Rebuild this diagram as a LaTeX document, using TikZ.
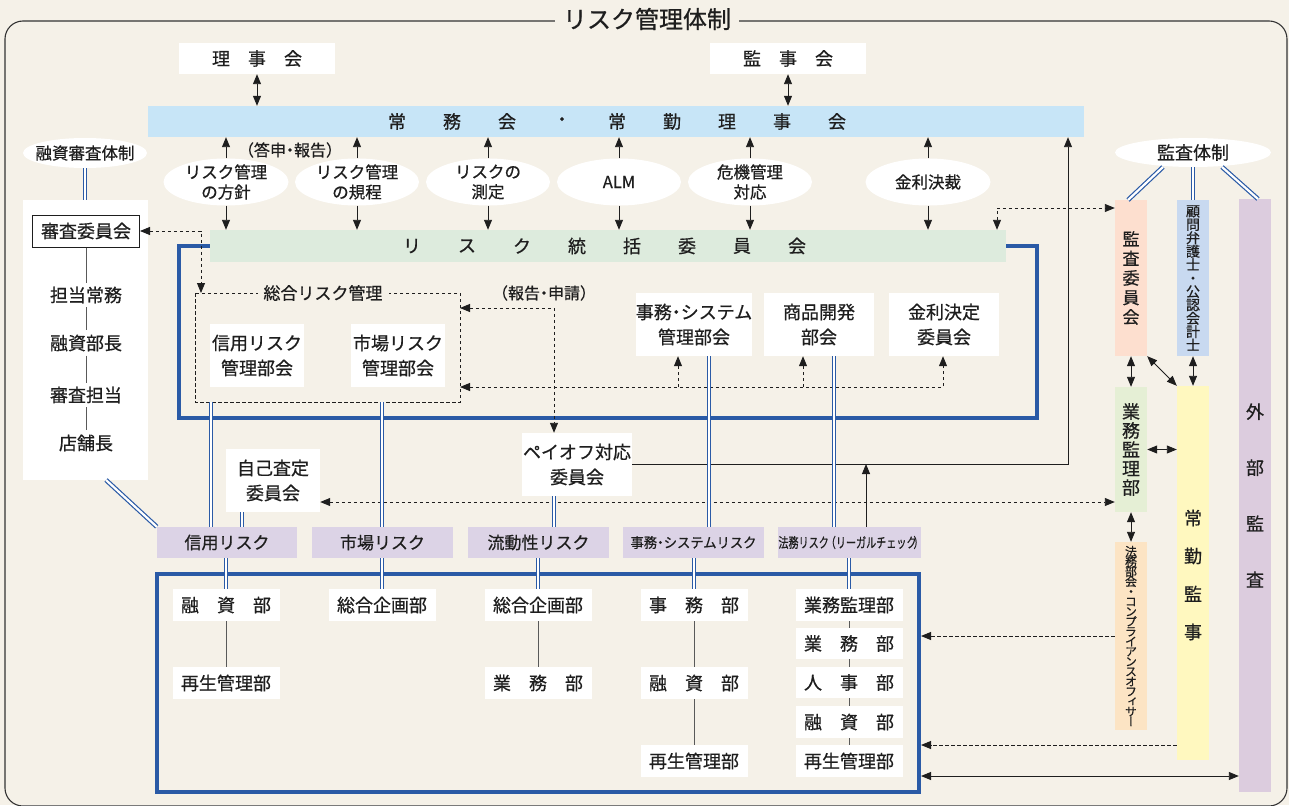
\documentclass[tikz,border=0pt]{standalone}
\usepackage{fontspec}
\setmainfont{Noto Sans CJK JP}[FakeBold=0.6]
\newfontfamily\vfont{Noto Sans CJK JP}[RawFeature=+vert,FakeBold=0.6]
\usetikzlibrary{arrows.meta,shapes.geometric}
\definecolor{bg}{HTML}{F5F1E8}
\definecolor{jomucol}{HTML}{C7E5F7}
\definecolor{greencol}{HTML}{DDEBDD}
\definecolor{purp}{HTML}{DCD3E6}
\definecolor{frblue}{HTML}{2A5AA6}
\definecolor{peach}{HTML}{FDDFCF}
\definecolor{lblue}{HTML}{C8D9F0}
\definecolor{lav}{HTML}{DCCCDE}
\definecolor{lgreen}{HTML}{E5EFD5}
\definecolor{lorange}{HTML}{FCE4C4}
\definecolor{lyellow}{HTML}{FFF8BF}
\definecolor{ink}{HTML}{1E1E1E}
\newcommand\myfs[2]{\fontsize{#1}{#2}\selectfont\lineskiplimit=-50pt\relax}
\newcommand\nd{\kern-0.25em・\kern-0.25em}
\tikzset{
  wbox/.style={fill=white, inner sep=0pt, align=center, text=ink, font=\myfs{18}{25}},
  ell/.style={ellipse, fill=white, inner sep=0pt},
  etxt/.style={align=center, text=ink, font=\myfs{16.5}{20}},
  pbox/.style={fill=purp, inner sep=0pt, minimum width=141pt, minimum height=31pt, text=ink, font=\myfs{17}{20}},
  lbox/.style={fill=white, inner sep=0pt, minimum width=107pt, minimum height=32pt, text=ink, font=\myfs{18}{20}},
  vbox/.style={inner sep=0pt, minimum width=32pt},
  vtxt/.style={align=center, text=ink},
  bluefr/.style={draw=frblue, line width=4pt, inner sep=0pt},
  arr/.style={-{Triangle[length=10pt,width=8pt]}, line width=0.9pt, draw=ink},
  darr/.style={{Triangle[length=10pt,width=8pt]}-{Triangle[length=10pt,width=8pt]}, line width=0.9pt, draw=ink},
  dsh/.style={dash pattern=on 3.5pt off 2.5pt, line width=0.8pt, draw=ink},
  dbl/.style={draw=frblue, line width=1.2pt, double=white, double distance=2.2pt},
  gline/.style={draw=black!65, line width=1pt},
}
\begin{document}
\begin{tikzpicture}[x=1pt,y=-1pt]
\useasboundingbox (0,0) rectangle (1289,805);
\fill[bg] (0,0) rectangle (1289,805);
% outer frame and title
\draw[line width=1.1pt, draw=black!80, rounded corners=18pt] (5,21) rectangle (1287,806);
\node[fill=bg, inner xsep=8pt, inner ysep=2pt, text=ink, font=\myfs{24}{28}] (title) at (647,19) {リスク管理体制};

% blue frames
\node[bluefr, minimum width=858pt, minimum height=172pt] (topfr) at (608,332) {};
\node[bluefr, minimum width=762pt, minimum height=218pt] (botfr) at (538,683) {};

% top boxes
\node[wbox, minimum width=156pt, minimum height=31pt] (riji) at (257,58.5) {理　事　会};
\node[wbox, minimum width=156pt, minimum height=31pt] (kanji) at (788,58.5) {監　事　会};

% bars
\node[fill=jomucol, minimum width=936pt, minimum height=31pt, inner sep=0pt] (jomu) at (616,121.5) {};
\foreach \c [count=\i from 0] in {常,務,会,・,常,勤,理,事,会}
  \node[text=ink, font=\myfs{18}{20}] at (397+55*\i,121.5) {\c};
\node[fill=greencol, minimum width=796pt, minimum height=32pt, inner sep=0pt] (togatsu) at (608,246) {};
\foreach \c [count=\i from 0] in {リ,ス,ク,統,括,委,員,会}
  \node[text=ink, font=\myfs{18}{20}] at (412+55*\i,246) {\c};

% ellipses
\node[ell, minimum width=125pt, minimum height=47pt] (e1) at (226,182) {};
\node[etxt] at (e1) {リスク管理\\の方針};
\node[ell, minimum width=124pt, minimum height=47pt] (e2) at (357,182) {};
\node[etxt] at (e2) {リスク管理\\の規程};
\node[ell, minimum width=124pt, minimum height=47pt] (e3) at (488,182) {};
\node[etxt] at (e3) {リスクの\\測定};
\node[ell, minimum width=124pt, minimum height=47pt] (e4) at (619,182) {};
\node[etxt] at (e4) {ALM};
\node[ell, minimum width=124pt, minimum height=47pt] (e5) at (750,182) {};
\node[etxt] at (e5) {危機管理\\対応};
\node[ell, minimum width=125pt, minimum height=47pt] (e6) at (928,182) {};
\node[etxt] at (e6) {金利決裁};
\node[text=ink, font=\myfs{16}{18}] (toshin) at (290,150) {（答申\nd 報告）};

\foreach \e in {e1,e2,e3,e4,e5,e6}{
  \draw[arr] (\e.north) -- (\e.north |- jomu.south);
  \draw[arr] (\e.south) -- (\e.south |- togatsu.north);
}
\draw[darr] (riji.south) -- (riji.south |- jomu.north);
\draw[darr] (kanji.south) -- (kanji.south |- jomu.north);

% left column
\node[ell, minimum width=124pt, minimum height=30pt] (yushi) at (85,153) {};
\node[etxt] at (yushi) {融資審査体制};
\node[fill=white, minimum width=125pt, minimum height=280pt, inner sep=0pt] (leftbox) at (85.5,340) {};
\draw[dbl] (yushi.south) -- (yushi.south |- leftbox.north);
\node[wbox, draw=ink, line width=1pt, minimum width=107pt, minimum height=32pt] (shinsa) at (86,231) {審査委員会};
\node[wbox, inner sep=4pt] (tanto) at (86,295) {担当常務};
\node[wbox, inner sep=4pt] (buchou) at (86,343) {融資部長};
\node[wbox, inner sep=4pt] (stanto) at (86,395) {審査担当};
\node[wbox, inner sep=4pt] (tenpo) at (86,443) {店舗長};
\draw[gline] (shinsa.south) -- (tanto.north) (tanto.south) -- (buchou.north) (buchou.south) -- (stanto.north) (stanto.south) -- (tenpo.north);

% general risk dashed box
\draw[dsh] (195,293) rectangle (460,402);
\coordinate (sogoNW) at (195,293);
\coordinate (sogoSE) at (460,402);
\node[fill=bg, inner xsep=6pt, text=ink, font=\myfs{17}{20}] (sogot) at (323,293) {総合リスク管理};
\node[wbox, minimum width=94pt, minimum height=63pt] (shinyoK) at (257,355.5) {信用リスク\\管理部会};
\node[wbox, minimum width=94pt, minimum height=63pt] (shijoK) at (398,355.5) {市場リスク\\管理部会};
\node[text=ink, font=\myfs{16}{18}] (hokoku) at (544,293) {（報告\nd 申請）};

\node[wbox, minimum width=110pt, minimum height=63pt] (jimuK) at (694,324.5) {事務\nd システム\\管理部会};
\node[wbox, minimum width=110pt, minimum height=63pt] (shohin) at (819,324.5) {商品開発\\部会};
\node[wbox, minimum width=110pt, minimum height=63pt] (kinri) at (944,324.5) {金利決定\\委員会};

\node[wbox, minimum width=94pt, minimum height=63pt] (jiko) at (273,480.5) {自己査定\\委員会};
\node[wbox, minimum width=110pt, minimum height=63pt] (payoff) at (577,464.5) {ペイオフ対応\\委員会};

% purple risk boxes
\node[pbox, minimum width=140pt] (p1) at (227,542.5) {信用リスク};
\node[pbox] (p2) at (382.5,542.5) {市場リスク};
\node[pbox] (p3) at (538.5,542.5) {流動性リスク};
\node[pbox, font=\myfs{14}{16}] (p4) at (693.5,542.5) {\scalebox{0.95}[1]{事務\nd システムリスク}};
\node[pbox, font=\myfs{14}{16}] (p5) at (849.5,542.5) {\scalebox{0.72}[1]{法務リスク\kern-0.3em（リーガルチェック\kern-0.3em）\kern-0.3em}};

% lower boxes
\node[lbox] (L11) at (226,605) {融　資　部};
\node[lbox] (L12) at (226,683) {再生管理部};
\node[lbox] (L21) at (382,605) {総合企画部};
\node[lbox] (L31) at (538,605) {総合企画部};
\node[lbox] (L32) at (538,683) {業　務　部};
\node[lbox] (L41) at (694,605) {事　務　部};
\node[lbox] (L42) at (694,683) {融　資　部};
\node[lbox] (L43) at (694,761) {再生管理部};
\node[lbox] (L51) at (849,605) {業務監理部};
\node[lbox, minimum height=31pt] (L52) at (849,643.5) {業　務　部};
\node[lbox, minimum height=31pt] (L53) at (849,682.5) {人　事　部};
\node[lbox] (L54) at (849,722) {融　資　部};
\node[lbox] (L55) at (849,761) {再生管理部};
\foreach \a/\b in {L11/L12,L31/L32,L41/L42,L42/L43,L51/L52,L52/L53,L53/L54,L54/L55}
  \draw[gline] (\a.south) -- (\b.north);

% right side
\node[ell, minimum width=156pt, minimum height=29pt] (kansaT) at (1193,152.5) {};
\node[etxt, font=\myfs{18}{20}] at (kansaT) {監査体制};
\node[vbox, fill=peach, minimum height=156pt] (kansaI) at (1131,278) {};
\node[vtxt, font=\myfs{17}{19.5}] at (kansaI) {監\\査\\委\\員\\会};
\node[vbox, fill=lblue, minimum height=156pt] (komon) at (1193,278) {};
\node[vtxt, font=\myfs{14}{13.4}] at (komon) {顧\\問\\弁\\護\\士\\・\\公\\認\\会\\計\\士};
\node[vbox, fill=lav, minimum height=593pt] (gaibu) at (1255,495.5) {};
\node[vtxt, font=\myfs{18}{56}] at (gaibu) {外\\部\\監\\査};
\node[vbox, fill=lgreen, minimum height=125pt] (gyomu) at (1131,449.5) {};
\node[vtxt, font=\myfs{18}{19}] at (gyomu) {業\\務\\監\\理\\部};
\node[vbox, fill=lorange, minimum height=188pt] (homu) at (1131,636) {};
\node[vtxt, font=\vfont\myfs{12}{10}] at (homu) {法\\務\\部\\会\\・\\コ\\ン\\プ\\ラ\\イ\\ア\\ン\\ス\\オ\\フ\\ィ\\サ\\ー};
\node[vbox, fill=lyellow, minimum height=374pt] (jokin) at (1193,573) {};
\node[vtxt, font=\myfs{18}{38}] at (1193,575) {常\\勤\\監\\事};

% audit system double lines
\coordinate (k1) at (1163,167);
\coordinate (k2) at (1222,167);
\draw[dbl] (k1) -- (1128,200);
\draw[dbl] (kansaT.south) -- (kansaT.south |- komon.north);
\draw[dbl] (k2) -- (1258,199);

% right arrows
\draw[darr] (kansaI.south) -- (gyomu.north);
\draw[darr] (komon.south) -- (jokin.north);
\draw[darr] (kansaI.south east) -- (jokin.north west);
\draw[darr] (gyomu.east) -- (gyomu.east -| jokin.west);
\draw[darr] (gyomu.south) -- (homu.north);
\draw[dsh, arr] (homu.west) -- (homu.west -| botfr.east);
\coordinate (y745) at (0,745);
\coordinate (y776) at (0,776);
\draw[dsh, arr] (jokin.west |- y745) -- (botfr.east |- y745);
\draw[darr] (botfr.east |- y776) -- (gaibu.west |- y776);

% dashed connectors
\coordinate (sg1) at (201,293);
\draw[dsh, darr] (shinsa.east) -| (sg1);
\coordinate (pk) at (554,308);
\draw[dsh, darr] (sogoSE |- pk) -- (pk) -- (pk |- payoff.north);
\coordinate (h1) at (943,387);
\coordinate (b1) at (678,387);
\coordinate (b2) at (803,387);
\draw[dsh, darr] (sogoSE |- h1) -- (h1) -- (h1 |- kinri.south);
\draw[dsh, arr] (b1) -- (b1 |- jimuK.south);
\draw[dsh, arr] (b2) -- (b2 |- shohin.south);
\coordinate (y502) at (0,502);
\draw[dsh, darr] (jiko.east |- y502) -- (gyomu.west |- y502);
\coordinate (c2) at (997,208);
\draw[dsh, darr] (c2 |- togatsu.north) -- (c2) -- (c2 -| kansaI.west);

% solid connectors
\coordinate (c3) at (1068,464);
\draw[arr] (payoff.east |- c3) -- (c3) -- (c3 |- jomu.south);
\coordinate (c4) at (866,464);
\draw[arr] (p5.north -| c4) -- (c4);

% double blue lines
\coordinate (xa) at (211,0);
\coordinate (xb) at (382,0);
\coordinate (xc) at (242,0);
\coordinate (xd) at (554,0);
\coordinate (xe) at (709,0);
\coordinate (xf) at (834,0);
\draw[dbl] (sogoSE -| xa) -- (p1.north -| xa);
\draw[dbl] (sogoSE -| xb) -- (p2.north -| xb);
\draw[dbl] (jiko.south -| xc) -- (p1.north -| xc);
\draw[dbl] (payoff.south -| xd) -- (p3.north -| xd);
\draw[dbl] (jimuK.south -| xe) -- (p4.north -| xe);
\draw[dbl] (shohin.south -| xf) -- (p5.north -| xf);
\coordinate (lb) at (106,480);
\draw[dbl] (lb) -- (p1.north west);
\draw[dbl] (L11.north |- p1.south) -- (L11.north);
\draw[dbl] (L21.north |- p2.south) -- (L21.north);
\draw[dbl] (L31.north |- p3.south) -- (L31.north);
\draw[dbl] (L41.north |- p4.south) -- (L41.north);
\draw[dbl] (L51.north |- p5.south) -- (L51.north);
\end{tikzpicture}
\end{document}
